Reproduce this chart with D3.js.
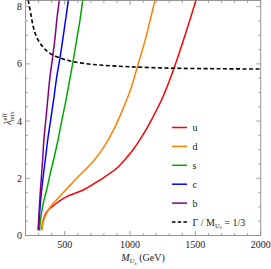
<!DOCTYPE html>
<html><head><meta charset="utf-8">
<script src="https://cdn.jsdelivr.net/npm/d3@7"></script>
<style>body{margin:0;background:#fff}svg{display:block}text{font-family:"Liberation Serif","Times New Roman",serif}</style>
</head><body>
<svg id="c" width="271" height="269"></svg>
<script>
const uM = [324,336,357,387,449,515,642,770,898,960,1023,1076,1153,1252,1329,1421,1505];
const uL = [0.19,0.54,0.79,0.95,1.17,1.36,1.59,1.94,2.35,2.65,3.0,3.35,3.95,4.85,5.75,7.0,8.23];
const dM = [324,334,349,380,413,464,515,592,719,808,885,939,1000,1053,1114,1191];
const dL = [0.19,0.47,0.66,0.93,1.13,1.38,1.63,2.00,2.60,3.15,3.80,4.35,5.05,5.85,6.80,8.23];
const sM = [307,315,326,342,365,387,418,449,479,510,541,566,594,617,638];
const sL = [0.16,0.54,0.89,1.24,1.66,2.12,2.71,3.34,4.04,4.74,5.51,6.14,6.91,7.53,8.23];
const cM = [299,307,319,334,353,372,395,418,441,464,487,510,528];
const cL = [0.19,0.72,1.38,2.01,2.71,3.41,4.11,4.84,5.61,6.21,6.91,7.64,8.23];
const bM = [296,303,311,321,332,342,357,372,387,407,426,441,459];
const bL = [0.19,0.72,1.38,2.01,2.71,3.41,4.11,4.84,5.54,6.21,6.91,7.60,8.23];
const gM = [221,242,260,288,334,387,464,541,640,770,1000,1329,1700,2000];
const gL = [8.23,7.71,7.29,6.91,6.59,6.37,6.21,6.10,6.02,5.96,5.90,5.85,5.83,5.82];
const xTicks = [500,1000,1500,2000];
const yTicks = [0,2,4,6,8];
const names = ["u","d","s","c","b"];
const colors = ["#ff0000","#ff8000","#00a800","#0000ff","#800080"];

const svg = d3.select("#c");
const x = d3.scaleLinear().domain([200,2000]).range([25.5,260.7]);
const y = d3.scaleLinear().domain([0,8.217]).range([235.5,0.5]);
const L = x.range()[0], R = x.range()[1], B = y.range()[0], T = y.range()[1];

svg.append("clipPath").attr("id","clip").append("rect")
  .attr("x",L).attr("y",T).attr("width",R-L).attr("height",B-T);

const frameCol = "#8a8a8a";
const xMinor = d3.range(200,2001,100), yMinor = d3.range(0,8.21,0.5);
const tk = svg.append("g").attr("stroke",frameCol).attr("stroke-width",0.8);
xMinor.forEach(v=>{
  const len = xTicks.includes(v)?4.5:2.5;
  tk.append("line").attr("x1",x(v)).attr("x2",x(v)).attr("y1",B).attr("y2",B-len);
  tk.append("line").attr("x1",x(v)).attr("x2",x(v)).attr("y1",T).attr("y2",T+len);
});
yMinor.forEach(v=>{
  const len = yTicks.includes(v)?4.5:2.5;
  tk.append("line").attr("y1",y(v)).attr("y2",y(v)).attr("x1",L).attr("x2",L+len);
  tk.append("line").attr("y1",y(v)).attr("y2",y(v)).attr("x1",R).attr("x2",R-len);
});
svg.append("rect").attr("x",L).attr("y",T).attr("width",R-L).attr("height",B-T)
  .attr("fill","none").attr("stroke",frameCol).attr("stroke-width",0.9);

xTicks.forEach(v=>{
  svg.append("text").attr("x",x(v)).attr("y",248).attr("text-anchor","middle")
    .attr("font-size",10).attr("fill","#222").text(v);
});
yTicks.forEach(v=>{
  svg.append("text").attr("x",22).attr("y",y(v)+3.5).attr("text-anchor","end")
    .attr("font-size",10).attr("fill","#222").text(v);
});

const xl = svg.append("text").attr("x",143).attr("y",261).attr("text-anchor","middle")
  .attr("font-size",10).attr("fill","#222");
xl.append("tspan").attr("font-style","italic").text("M");
xl.append("tspan").attr("font-style","italic").attr("font-size",7).attr("dy",2).text("U");
xl.append("tspan").attr("font-style","italic").attr("font-size",5).attr("dy",1.5).text("λ");
xl.append("tspan").attr("dy",-3.5).text(" (GeV)");

const yl = svg.append("text").attr("transform","translate(11,118) rotate(-90)")
  .attr("text-anchor","middle").attr("font-size",10).attr("fill","#222");
yl.append("tspan").attr("font-style","italic").text("λ");
yl.append("tspan").attr("font-size",6.5).attr("dy",-4).text("eff");
yl.append("tspan").attr("font-size",6.5).attr("dx",-8).attr("dy",7).text("mix");

const line = d3.line().x(d=>x(d[0])).y(d=>y(d[1])).curve(d3.curveCatmullRom.alpha(0.5));
const series = [[uM,uL],[dM,dL],[sM,sL],[cM,cL],[bM,bL]];
const g = svg.append("g").attr("clip-path","url(#clip)");
series.forEach((s,i)=>{
  g.append("path").attr("d",line(d3.zip(s[0],s[1]))).attr("fill","none")
    .attr("stroke",colors[i]).attr("stroke-width",1.5);
});
g.append("path").attr("d",line(d3.zip(gM,gL))).attr("fill","none")
  .attr("stroke","#000").attr("stroke-width",1.6).attr("stroke-dasharray","4,2.5");

const ly0 = 127.5, ldy = 18.9;
names.forEach((n,i)=>{
  const yy = ly0 + i*ldy;
  svg.append("line").attr("x1",172).attr("x2",187).attr("y1",yy).attr("y2",yy)
    .attr("stroke",colors[i]).attr("stroke-width",1.5);
  svg.append("text").attr("x",192.5).attr("y",yy+3.5).attr("font-size",10).attr("fill","#222").text(n);
});
const gy = ly0 + 5*ldy;
svg.append("line").attr("x1",172).attr("x2",187).attr("y1",gy).attr("y2",gy)
  .attr("stroke","#000").attr("stroke-width",1.6).attr("stroke-dasharray","3.5,2.2");
const gt = svg.append("text").attr("x",192.5).attr("y",gy+3.5).attr("font-size",10).attr("fill","#222");
gt.append("tspan").text("Γ / M");
gt.append("tspan").attr("font-size",6.5).attr("dy",2).text("U");
gt.append("tspan").attr("font-size",4.5).attr("dy",1).text("λ");
gt.append("tspan").attr("dy",-3).text(" = 1/3");
</script>
</body></html>
